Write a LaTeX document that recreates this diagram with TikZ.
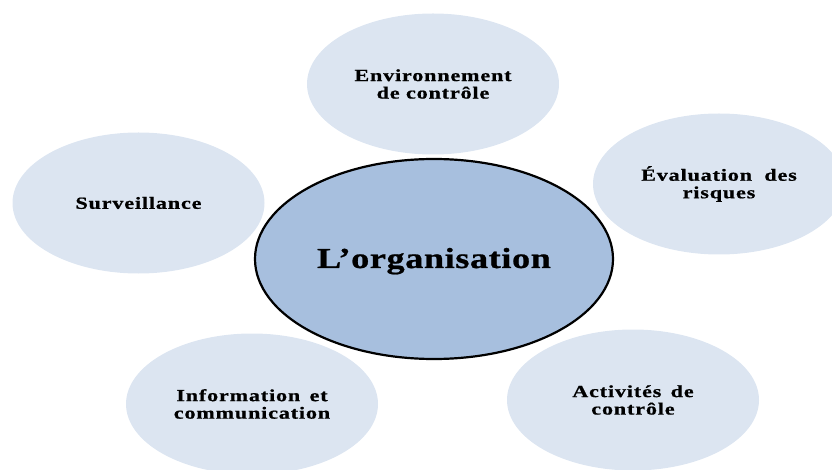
\documentclass[tikz,border=0pt]{standalone}
\usepackage{fontspec}
\usetikzlibrary{shapes.geometric}
% wide, tracked bold serif used for every label
\newfontfamily\lblfont{Liberation Serif Bold}[FakeStretch=1.3,LetterSpace=5,FakeBold=0.8]
\newfontfamily\orgfont{Liberation Serif Bold}[FakeStretch=1.25,LetterSpace=2,FakeBold=0.8]
\definecolor{petal}{HTML}{DCE5F1}
\definecolor{core}{HTML}{A7BFDE}
\tikzset{
  petal/.style={ellipse, fill=petal, draw=none, inner sep=0pt,
    minimum width=252pt, minimum height=141pt, align=center,
    font=\lblfont\fontsize{17pt}{17.5pt}\selectfont},
  core/.style={ellipse, fill=core, draw=black, line width=2.2pt, inner sep=0pt,
    minimum width=358pt, minimum height=200pt,
    font=\orgfont\fontsize{29pt}{32pt}\selectfont}
}
\begin{document}
\begin{tikzpicture}[x=1pt,y=-1pt]
  \useasboundingbox (0,0) rectangle (832,470);
  \begin{scope}
    \clip (0,0) rectangle (832,470);
    \node[petal] (env)  at (433,84)  {Environnement\\de contrôle};
    \node[petal] (eval) at (719,184) {Évaluation\hspace{6pt} des\\risques};
    \node[petal] (surv) at (138.5,203) {Surveillance};
    \node[petal] (info) at (252,404) {Information\hspace{3pt} et\\communication};
    \node[petal] (act)  at (633,400) {Activités\hspace{3pt} de\\contrôle};
    % baseline sits a little below the ellipse centre
    \node[core]  (org)  at (434,259) {\smash{\raisebox{-9pt}{L’organisation}}};
  \end{scope}
\end{tikzpicture}
\end{document}
